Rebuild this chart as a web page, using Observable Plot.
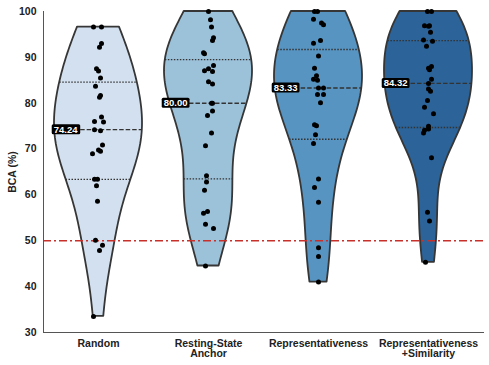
<!DOCTYPE html>
<html><head><meta charset="utf-8">
<script src="https://cdn.jsdelivr.net/npm/d3@7"></script>
<script src="https://cdn.jsdelivr.net/npm/@observablehq/plot@0.6"></script>
<style>body{margin:0;background:#fff;}</style>
</head><body><div id="chart"></div>
<script>
// Categories (tick labels) and colours
const categories = ["Random", "Resting-State\nAnchor", "Representativeness", "Representativeness\n+Similarity"];
const colors = ["#d3e0ef", "#9cc2da", "#5794c1", "#2c6399"];
const yTicks = [30, 40, 50, 60, 70, 80, 90, 100];
const chanceLevel = 50;

// Per-subject BCA values (%)
const randomBCA = [96.6, 96.6, 93.0, 92.2, 87.5, 87.0, 85.5, 83.7, 81.7, 81.3, 77.0, 76.0, 75.9, 74.24, 74.0, 70.9, 69.8, 69.5, 69.0, 63.4, 63.4, 62.0, 58.6, 50.1, 49.0, 47.9, 33.5];
const restingBCA = [100, 98.2, 96.6, 94.3, 93.7, 91.0, 90.8, 88.2, 87.5, 87.1, 86.9, 84.7, 84.2, 80.0, 80.0, 78.3, 77.3, 73.5, 70.7, 64.2, 62.8, 61.0, 56.4, 56.0, 53.6, 52.7, 44.5];
const reprBCA = [100, 100, 98.3, 97.5, 97.1, 93.7, 93.1, 90.3, 87.6, 86.0, 85.2, 85.0, 83.33, 83.33, 81.9, 81.9, 80.1, 75.3, 75.1, 73.1, 71.2, 63.5, 61.6, 58.4, 48.5, 46.6, 41.0];
const reprSimBCA = [100, 100, 96.9, 96.8, 96.9, 95.5, 93.8, 93.5, 92.4, 88.0, 87.6, 87.3, 85.2, 84.32, 83.1, 82.6, 80.6, 79.1, 77.7, 75.0, 74.4, 74.1, 73.5, 68.1, 56.2, 54.3, 45.3];

// Strip-plot jitter offsets (pixels; category spacing = 110 px)
const randomJitter = [-5, 3, 3, 1, -2, 0, 2, -3, 2, 1, 3, -4, 5, -4, 2, 4, 0, 2, -6, -4, -1, -2, -1, -3, 4, 1, -5];
const restingJitter = [0, 2, 3, 5, 4, -5, -4, 5, 0, -4, 4, 0, 4, 4, 3, 4, -1, 3, -3, -2, -2, -4, -1, -5, -3, 5, -3];
const reprJitter = [-4, -1, -5, 3, 5, 2, -5, 0, -4, -2, -5, -1, 0, 5, -1, 5, 2, -4, -2, -3, -5, 0, -4, 0, 0, 0, 0];
const reprSimJitter = [-1, 3, -4, 0, 1, 2, -5, 4, -2, 3, 0, 1, 3, 0, 0, 2, -1, -4, 5, 0, 0, -4, -5, 3, -1, 1, -3];

const groups = [randomBCA, restingBCA, reprBCA, reprSimBCA];
const jitters = [randomJitter, restingJitter, reprJitter, reprSimJitter];
const spacingPx = 110;

// Gaussian KDE (Scott's rule), cut at data range, width-normalised like seaborn
function kde(values) {
  const n = values.length;
  const bw = d3.deviation(values) * Math.pow(n, -1 / 5);
  const f = y => d3.mean(values, v => Math.exp(-0.5 * ((y - v) / bw) ** 2)) / (bw * Math.sqrt(2 * Math.PI));
  const lo = d3.min(values), hi = d3.max(values);
  const grid = d3.range(100).map(k => lo + (hi - lo) * k / 99);
  const dens = grid.map(f);
  return {grid, dens, max: d3.max(dens), f};
}

const halfWidth = 0.4;
const violinRows = [], quartRows = [], dotRows = [], medianRows = [];
groups.forEach((vals, i) => {
  const k = kde(vals);
  k.grid.forEach((y, j) => {
    const w = halfWidth * k.dens[j] / k.max;
    violinRows.push({cat: categories[i], y, x1: i - w, x2: i + w});
  });
  [0.25, 0.5, 0.75].forEach(q => {
    const v = d3.quantile(vals, q);
    const w = halfWidth * k.f(v) / k.max;
    quartRows.push({q, y: v, x1: i - w, x2: i + w});
  });
  vals.forEach((v, j) => dotRows.push({x: i + jitters[i][j] / spacingPx, y: v}));
  const med = d3.median(vals);
  medianRows.push({x: i, y: med, label: med.toFixed(2)});
});

const chart = Plot.plot({
  width: 489,
  height: 365,
  marginLeft: 43,
  marginRight: 6,
  marginTop: 11,
  marginBottom: 33,
  style: {fontFamily: "'Liberation Sans', Arial, sans-serif", background: "#fff", color: "#222"},
  x: {domain: [-0.5, 3.5]},
  y: {domain: [30, 100]},
  color: {domain: categories, range: colors},
  marks: [
    Plot.areaX(violinRows, {y: "y", x1: "x1", x2: "x2", z: "cat", fill: "cat", stroke: "#363636", strokeWidth: 1.8, strokeLinejoin: "round"}),
    Plot.ruleY(quartRows.filter(d => d.q !== 0.5), {y: "y", x1: "x1", x2: "x2", stroke: "#333", strokeWidth: 1.4, strokeDasharray: "1.5,1.5"}),
    Plot.ruleY(quartRows.filter(d => d.q === 0.5), {y: "y", x1: "x1", x2: "x2", stroke: "#333", strokeWidth: 1.4, strokeDasharray: "4.5,2"}),
    Plot.ruleY([chanceLevel], {stroke: "#c8302c", strokeWidth: 1.5, strokeDasharray: "8,3,2,3"}),
    Plot.dot(dotRows, {x: "x", y: "y", r: 2.5, fill: "black"}),
    Plot.text(medianRows, {x: "x", y: "y", text: "label", dx: -21, textAnchor: "end", fill: "white", fontWeight: "bold", fontSize: 9.5}),
    Plot.frame({anchor: "left", stroke: "#555"}),
    Plot.frame({anchor: "bottom", stroke: "#555"}),
    Plot.axisY({ticks: yTicks, tickSize: 0, tickPadding: 7, fontWeight: "bold", fontSize: 10.5, label: "BCA (%)", labelAnchor: "center", labelOffset: 35, labelArrow: "none"}),
    Plot.axisX({ticks: [0, 1, 2, 3], tickFormat: i => categories[i], tickSize: 0, tickPadding: 7, fontWeight: "bold", fontSize: 10.5, label: null})
  ]
});
document.getElementById("chart").append(chart);

// Black rounded boxes behind the median labels
const svgNS = "http://www.w3.org/2000/svg";
chart.querySelectorAll('g[aria-label="text"] text').forEach(t => {
  const b = t.getBBox();
  const r = document.createElementNS(svgNS, "rect");
  r.setAttribute("x", b.x - 2);
  r.setAttribute("y", b.y + 0.5);
  r.setAttribute("width", b.width + 4);
  r.setAttribute("height", b.height - 1);
  r.setAttribute("rx", 1.5);
  r.setAttribute("fill", "black");
  if (t.getAttribute("transform")) r.setAttribute("transform", t.getAttribute("transform"));
  t.parentNode.insertBefore(r, t);
});
</script>
</body></html>
